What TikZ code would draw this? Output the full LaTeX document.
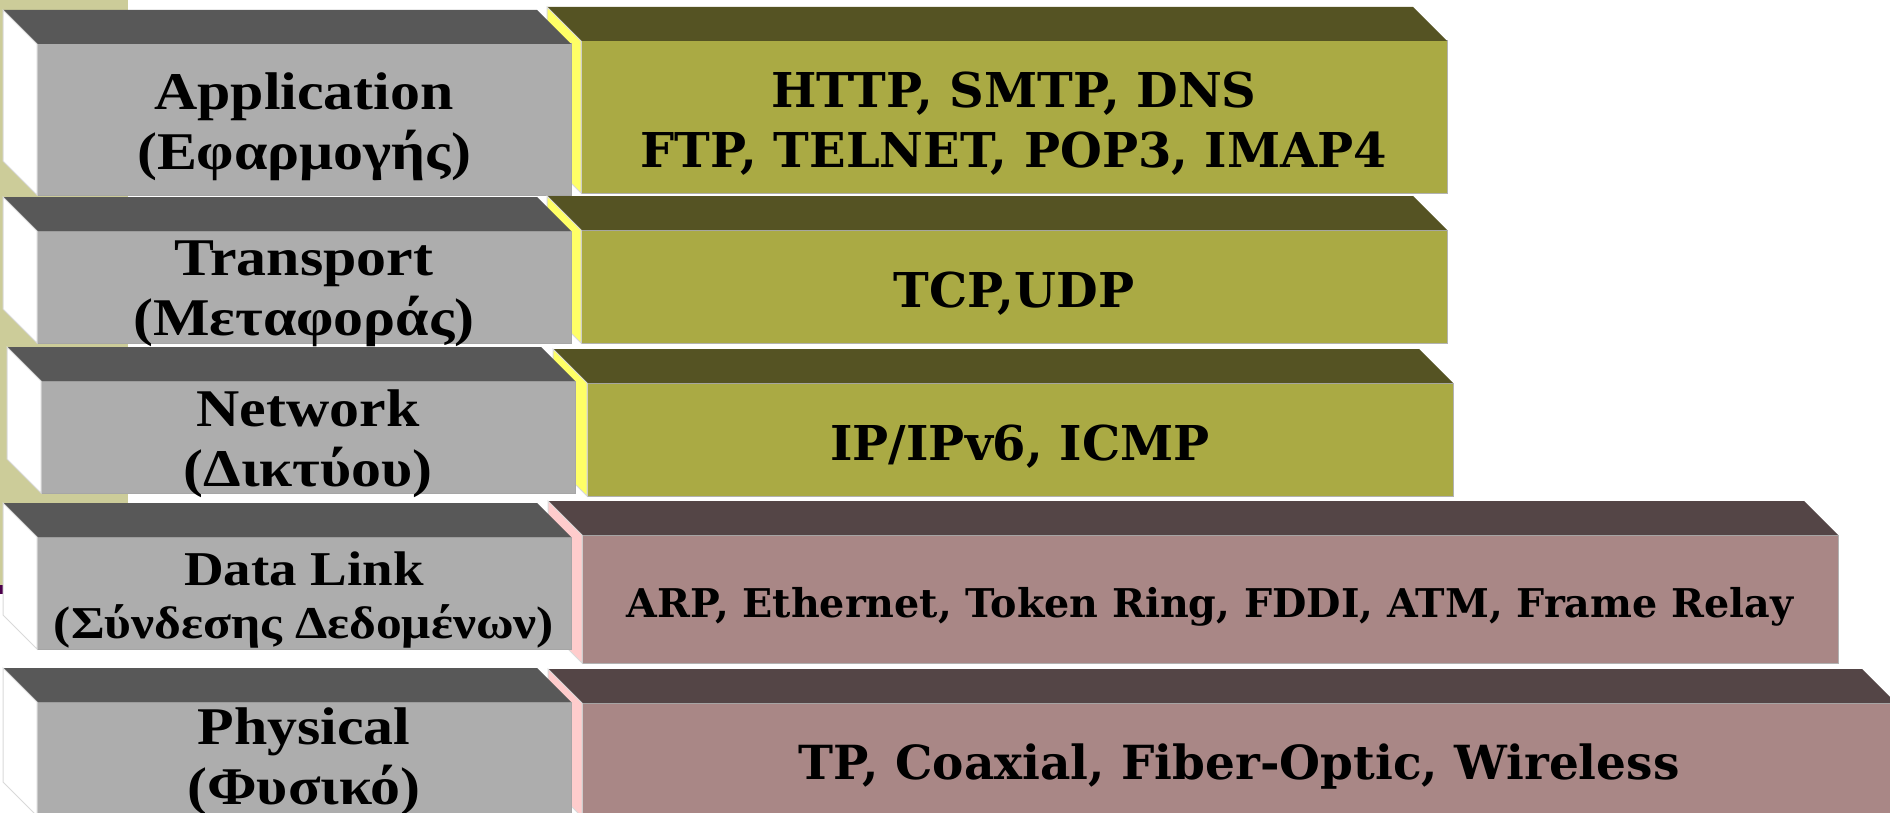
\documentclass[tikz,border=0pt]{standalone}
\usepackage{fontspec}
\setmainfont{Liberation Serif}
\newfontfamily\layerfont[FakeStretch=1.13]{Liberation Serif}
\newfontfamily\protofont{DejaVu Serif}
\usetikzlibrary{positioning}

\newdimen\pxu \pxu=0.5pt

\definecolor{tanbg}{RGB}{204,204,153}
\definecolor{plumline}{RGB}{75,0,75}
\definecolor{grayfront}{RGB}{173,173,173}
\definecolor{graytop}{RGB}{88,88,88}
\definecolor{olivefront}{RGB}{170,170,68}
\definecolor{olivetop}{RGB}{85,83,35}
\definecolor{oliveside}{RGB}{255,255,102}
\definecolor{pinkfront}{RGB}{169,135,134}
\definecolor{pinktop}{RGB}{84,69,70}
\definecolor{pinkside}{RGB}{255,204,204}

\begin{document}
\begin{tikzpicture}[
    x=0.5pt,
    y=-0.5pt,
    face/.style={
		rectangle,
		inner sep=0pt,
		outer sep=0pt,
		line width=0.5pt
	},
	layer/.style={
		face,
		fill=grayfront,
		draw=black!35,
		minimum width=534\pxu,
		minimum height=112\pxu
	},
	olive/.style={
		face,
		fill=olivefront,
		draw=black!30,
		minimum width=866\pxu,
		minimum height=113\pxu
	},
	pink/.style={
		face,
		fill=pinkfront,
		draw=black!30,
		minimum height=114\pxu
	},
	sideface/.style={
		draw=black!15,
		line width=0.5pt
	},
	layertext/.style={
		inner sep=0pt,
		align=center,
		yshift=-3.5pt,
		font=\layerfont\bfseries\fontsize{26.5}{30}\selectfont
	},
	prototext/.style={
		inner sep=0pt,
		align=center,
		yshift=-3.5pt,
		font=\protofont\bfseries\fontsize{24}{30}\selectfont
	}
  ]

\useasboundingbox (0,0) rectangle (1890,813);
\clip (0,0) rectangle (1890,813);

% // background
\fill[tanbg] (0,0) rectangle (128,585);
\fill[plumline] (0,585) rectangle (128,594);

% // Application
\node [olive, minimum height=152\pxu] (appproto) at (1014,117) {};
\fill[olivetop] (appproto.north west) -- ++(-34,-34) -- ([shift={(-34,-34)}]appproto.north east) -- (appproto.north east) -- cycle;
\filldraw[oliveside, sideface] (appproto.north west) -- ++(-34,-34) -- ([shift={(-34,-34)}]appproto.south west) -- (appproto.south west) -- cycle;
\node [prototext] (appprotolbl) at (appproto) {HTTP, SMTP, DNS\\FTP, TELNET, POP3, IMAP4};

\node [layer, minimum height=151\pxu] (app) at (304,119.5) {};
\fill[graytop] (app.north west) -- ++(-34,-34) -- ([shift={(-34,-34)}]app.north east) -- (app.north east) -- cycle;
\filldraw[white, sideface] (app.north west) -- ++(-34,-34) -- ([shift={(-34,-34)}]app.south west) -- (app.south west) -- cycle;
\node [layertext] (applbl) at (app) {Application\\(Εφαρμογής)};

% // Transport
\node [olive] (transproto) at (1014,286.5) {};
\fill[olivetop] (transproto.north west) -- ++(-34,-34) -- ([shift={(-34,-34)}]transproto.north east) -- (transproto.north east) -- cycle;
\filldraw[oliveside, sideface] (transproto.north west) -- ++(-34,-34) -- ([shift={(-34,-34)}]transproto.south west) -- (transproto.south west) -- cycle;
\node [prototext] (transprotolbl) at (transproto) {TCP,UDP};

\node [layer] (trans) at (304,287) {};
\fill[graytop] (trans.north west) -- ++(-34,-34) -- ([shift={(-34,-34)}]trans.north east) -- (trans.north east) -- cycle;
\filldraw[white, sideface] (trans.north west) -- ++(-34,-34) -- ([shift={(-34,-34)}]trans.south west) -- (trans.south west) -- cycle;
\node [layertext] (translbl) at (trans) {Transport\\(Μεταφοράς)};

% // Network
\node [olive] (netproto) at (1020,439.5) {};
\fill[olivetop] (netproto.north west) -- ++(-34,-34) -- ([shift={(-34,-34)}]netproto.north east) -- (netproto.north east) -- cycle;
\filldraw[oliveside, sideface] (netproto.north west) -- ++(-34,-34) -- ([shift={(-34,-34)}]netproto.south west) -- (netproto.south west) -- cycle;
\node [prototext] (netprotolbl) at (netproto) {IP/IPv6, ICMP};

\node [layer] (net) at (308,437) {};
\fill[graytop] (net.north west) -- ++(-34,-34) -- ([shift={(-34,-34)}]net.north east) -- (net.north east) -- cycle;
\filldraw[white, sideface] (net.north west) -- ++(-34,-34) -- ([shift={(-34,-34)}]net.south west) -- (net.south west) -- cycle;
\node [layertext] (netlbl) at (net) {Network\\(Δικτύου)};

% // Data Link
\node [pink, minimum width=1256\pxu, minimum height=128\pxu] (linkproto) at (1210,599) {};
\fill[pinktop] (linkproto.north west) -- ++(-34,-34) -- ([shift={(-34,-34)}]linkproto.north east) -- (linkproto.north east) -- cycle;
\filldraw[pinkside, sideface] (linkproto.north west) -- ++(-34,-34) -- ([shift={(-34,-34)}]linkproto.south west) -- (linkproto.south west) -- cycle;
\node [prototext, yshift=-0.5pt, font=\protofont\bfseries\fontsize{19.8}{24}\selectfont] (linkprotolbl) at (linkproto)
 {ARP, Ethernet, Token Ring, FDDI, ATM, Frame Relay};

\node [layer] (link) at (304,593) {};
\fill[graytop] (link.north west) -- ++(-34,-34) -- ([shift={(-34,-34)}]link.north east) -- (link.north east) -- cycle;
\filldraw[white, sideface] (link.north west) -- ++(-34,-34) -- ([shift={(-34,-34)}]link.south west) -- (link.south west) -- cycle;
\node [layertext, font=\layerfont\bfseries\fontsize{24.3}{26.5}\selectfont] (linklbl) at (link)
 {Data Link\\{\fontsize{22.8}{26.5}\selectfont(Σύνδεσης Δεδομένων)}};

% // Physical
\node [pink, minimum width=1314\pxu] (physproto) at (1239,760) {};
\fill[pinktop] (physproto.north west) -- ++(-34,-34) -- ([shift={(-34,-34)}]physproto.north east) -- (physproto.north east) -- cycle;
\filldraw[pinkside, sideface] (physproto.north west) -- ++(-34,-34) -- ([shift={(-34,-34)}]physproto.south west) -- (physproto.south west) -- cycle;
\node [prototext, font=\protofont\bfseries\fontsize{23.5}{30}\selectfont] (physprotolbl) at (physproto) {TP, Coaxial, Fiber-Optic, Wireless};

\node [layer, minimum height=114\pxu] (phys) at (304,759) {};
\fill[graytop] (phys.north west) -- ++(-34,-34) -- ([shift={(-34,-34)}]phys.north east) -- (phys.north east) -- cycle;
\filldraw[white, sideface] (phys.north west) -- ++(-34,-34) -- ([shift={(-34,-34)}]phys.south west) -- (phys.south west) -- cycle;
\node [layertext, yshift=2pt] (physlbl) at (phys) {Physical\\(Φυσικό)};

\end{tikzpicture}
\end{document}
